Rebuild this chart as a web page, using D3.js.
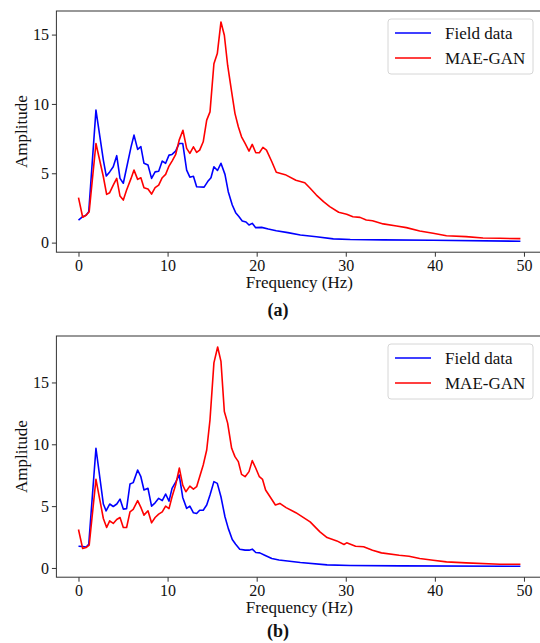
<!DOCTYPE html>
<html>
<head>
<meta charset="utf-8">
<script src="https://cdn.jsdelivr.net/npm/d3@7"></script>
<style>
    body { margin: 0; background: #fff; }
    .axis path, .axis line { stroke: #333; }
</style>
</head>
<body>
<div id="chart"></div>
<script>

// spectra: [frequency (Hz), amplitude]
var fieldA = [[0,1.63],[0.47,1.87],[0.85,1.97],[1.15,2.23],[1.96,9.55],[2.79,5.95],[3.12,4.8],[3.5,5.1],[3.9,5.47],[4.29,6.27],[4.66,4.63],[5.03,4.28],[5.4,5.4],[5.9,6.9],[6.23,7.75],[6.64,6.72],[7.0,6.92],[7.35,5.72],[7.8,5.6],[8.2,4.63],[8.6,5.1],[9.0,5.15],[9.4,5.88],[9.78,5.72],[10.16,6.31],[10.5,6.36],[10.9,6.6],[11.3,7.15],[11.7,7.15],[12.14,5.23],[12.5,4.72],[12.9,4.78],[13.26,4.03],[14.1,4.0],[14.5,4.4],[14.87,4.68],[15.2,5.47],[15.6,5.2],[15.99,5.72],[16.44,4.92],[16.81,3.67],[17.26,2.71],[17.64,2.16],[18.0,1.88],[18.38,1.56],[18.8,1.49],[19.14,1.27],[19.5,1.39],[19.89,1.08],[20.56,1.1],[21.3,0.98],[22.2,0.86],[23.5,0.72],[24.9,0.55],[26.7,0.42],[28.6,0.27],[30.5,0.22],[34.2,0.2],[39.8,0.17],[49.6,0.1]];

var maeA = [[0,3.24],[0.47,1.83],[0.85,1.97],[1.2,2.23],[1.96,7.15],[2.79,4.75],[3.16,3.48],[3.5,3.6],[3.9,4.15],[4.29,4.63],[4.66,3.36],[5.03,3.07],[5.4,3.8],[5.9,4.63],[6.23,5.23],[6.64,4.56],[7.0,4.68],[7.35,3.96],[7.8,3.86],[8.2,3.5],[8.6,3.96],[9.0,4.15],[9.4,4.68],[9.78,4.92],[10.16,5.52],[10.5,5.88],[10.9,6.34],[11.3,7.39],[11.72,8.1],[12.14,6.8],[12.5,6.43],[12.9,6.91],[13.26,6.5],[13.6,6.67],[14.0,7.27],[14.39,8.83],[14.76,9.43],[15.2,12.9],[15.58,13.63],[15.99,15.91],[16.37,14.95],[16.74,12.79],[17.19,10.87],[17.56,9.32],[17.94,8.35],[18.3,7.63],[18.7,7.15],[19.14,6.6],[19.5,7.08],[19.9,6.48],[20.3,6.48],[20.7,6.87],[21.1,6.67],[21.7,5.83],[22.2,5.07],[23.2,4.9],[24.4,4.5],[25.4,4.32],[26.0,3.92],[26.7,3.43],[27.5,2.95],[28.2,2.6],[29.2,2.19],[30.1,2.05],[30.8,1.87],[31.6,1.82],[32.3,1.63],[33.0,1.58],[34.2,1.35],[35.7,1.2],[36.8,1.08],[38.3,0.84],[39.8,0.68],[41.3,0.5],[43.5,0.43],[45.4,0.33],[47.3,0.31],[49.6,0.29]];

var fieldB = [[0,1.76],[0.47,1.73],[0.85,1.7],[1.15,1.92],[1.96,9.68],[2.79,5.17],[3.1,4.62],[3.5,5.17],[3.9,4.97],[4.3,5.17],[4.66,5.57],[5.03,4.76],[5.4,4.8],[5.78,6.79],[6.14,6.9],[6.64,7.92],[7.0,7.38],[7.35,6.3],[7.8,6.44],[8.2,5.0],[8.6,5.27],[9.0,5.63],[9.4,5.45],[9.78,5.98],[10.16,5.4],[10.5,6.44],[10.94,6.98],[11.3,7.52],[11.7,5.7],[12.14,4.82],[12.5,5.0],[12.9,4.46],[13.26,4.4],[13.6,4.67],[14.0,4.67],[14.39,5.09],[14.76,5.9],[15.2,6.98],[15.58,6.84],[15.99,5.76],[16.44,4.14],[16.81,3.2],[17.26,2.3],[17.64,1.92],[18.1,1.52],[18.7,1.44],[19.14,1.44],[19.5,1.52],[19.9,1.25],[20.35,1.22],[20.9,1.03],[21.7,0.76],[22.5,0.65],[24.9,0.44],[27.9,0.25],[30.5,0.2],[36.2,0.17],[49.6,0.14]];

var maeB = [[0,3.11],[0.47,1.57],[0.85,1.65],[1.2,1.84],[1.96,7.17],[2.79,4.0],[3.16,3.27],[3.5,3.81],[3.9,3.6],[4.29,3.92],[4.66,4.08],[5.03,3.27],[5.4,3.27],[5.78,4.54],[6.14,4.73],[6.64,5.44],[7.0,4.9],[7.35,4.27],[7.8,4.62],[8.2,3.65],[8.6,4.08],[9.0,4.35],[9.4,4.54],[9.78,5.0],[10.16,4.8],[10.5,5.76],[10.9,6.7],[11.32,8.08],[11.7,6.7],[12.05,6.16],[12.5,6.62],[12.9,6.38],[13.26,6.57],[13.6,7.38],[14.0,8.33],[14.39,9.54],[14.76,11.98],[15.2,16.58],[15.62,17.87],[15.99,16.71],[16.37,12.65],[16.74,11.71],[17.19,9.68],[17.56,9.0],[17.94,8.6],[18.3,7.57],[18.7,7.38],[19.14,7.79],[19.5,8.68],[19.9,8.06],[20.3,7.38],[20.66,7.16],[21.0,6.3],[21.5,5.76],[22.1,5.09],[22.6,5.22],[23.3,4.88],[24.4,4.47],[26.0,3.73],[27.1,2.92],[27.9,2.46],[29.0,2.19],[29.8,1.9],[30.1,2.03],[31.1,1.76],[32.0,1.71],[33.0,1.44],[34.0,1.22],[36.0,1.03],[37.1,0.95],[38.3,0.76],[39.8,0.62],[41.3,0.49],[43.5,0.41],[47.3,0.3],[49.6,0.3]];

var seriesNames = ['Field data', 'MAE-GAN'];
var seriesColors = ['#0000ff', '#ff0000'];
var xTicks = [0, 10, 20, 30, 40, 50];
var yTicks = [0, 5, 10, 15];

var serif = '"Liberation Serif"';

var svg = d3.select('#chart')
    .append('svg')
    .attr('width', 540)
    .attr('height', 643);

// every text gets the serif face directly
function setText(sel, size) {
    return sel.style('font-family', serif)
        .style('font-size', size + 'px')
        .attr('fill', '#111');
}

SpectrumPlot = function(_svg, _series, _top, _label, _labelGap) {
    this.svg = _svg;
    this.series = _series;
    this.top = _top;
    this.label = _label;
    this.labelGap = _labelGap;

    this.initVis();
}

SpectrumPlot.prototype.initVis = function() {
    var vis = this;

    vis.left = 56.4;
    vis.width = 486.1;
    vis.height = 241.2;

    vis.g = vis.svg.append('g')
        .attr('transform', 'translate(' + vis.left + ',' + vis.top + ')');

    // matplotlib style 5% padding around the data
    var all = d3.merge(vis.series);
    var xExt = d3.extent(all, function(d) { return d[0]; });
    var yExt = d3.extent(all, function(d) { return d[1]; });
    var xPad = (xExt[1] - xExt[0]) * 0.05,
        yPad = (yExt[1] - yExt[0]) * 0.05;

    vis.xScale = d3.scaleLinear()
        .domain([xExt[0] - xPad, xExt[1] + xPad])
        .range([0, vis.width]);

    vis.yScale = d3.scaleLinear()
        .domain([yExt[0] - yPad, yExt[1] + yPad])
        .range([vis.height, 0]);

    vis.g.append('g')
        .attr('class', 'x-axis axis')
        .attr('transform', 'translate(0,' + vis.height + ')')
        .call(d3.axisBottom(vis.xScale).tickValues(xTicks).tickSize(4.5).tickPadding(3).tickSizeOuter(0))
        .call(function(g) { setText(g.selectAll('text'), 16); });

    vis.g.append('g')
        .attr('class', 'y-axis axis')
        .call(d3.axisLeft(vis.yScale).tickValues(yTicks).tickSize(4.5).tickPadding(3).tickSizeOuter(0))
        .call(function(g) { setText(g.selectAll('text'), 16); });

    // frame
    vis.g.selectAll('.domain').remove();
    vis.g.append('rect')
        .attr('width', vis.width)
        .attr('height', vis.height)
        .attr('fill', 'none')
        .attr('stroke', '#333')
        .attr('stroke-width', 1);

    var line = d3.line()
        .x(function(d) { return vis.xScale(d[0]); })
        .y(function(d) { return vis.yScale(d[1]); });

    vis.g.selectAll('.spectrum')
        .data(vis.series)
        .enter()
        .append('path')
        .attr('class', 'spectrum')
        .attr('d', line)
        .attr('fill', 'none')
        .attr('stroke', function(d, i) { return seriesColors[i]; })
        .attr('stroke-width', 1.6)
        .attr('stroke-linejoin', 'round');

    setText(vis.g.append('text'), 17)
        .attr('transform', 'translate(' + (27 - vis.left) + ',' + (vis.height / 2) + ') rotate(-90)')
        .attr('text-anchor', 'middle')
        .text('Amplitude');

    setText(vis.g.append('text'), 17)
        .attr('x', vis.width / 2)
        .attr('y', vis.height + 36)
        .attr('text-anchor', 'middle')
        .text('Frequency (Hz)');

    setText(vis.g.append('text'), 18)
        .attr('x', 278 - vis.left)
        .attr('y', vis.height + vis.labelGap)
        .attr('text-anchor', 'middle')
        .style('font-weight', 'bold')
        .text(vis.label);

    // legend
    var legend = vis.g.append('g')
        .attr('transform', 'translate(' + (388 - vis.left) + ',8)');

    legend.append('rect')
        .attr('width', 145)
        .attr('height', 55)
        .attr('rx', 3)
        .attr('fill', '#fff')
        .attr('fill-opacity', 0.8)
        .attr('stroke', '#d6d6d6');

    var items = legend.selectAll('.legend-item')
        .data(seriesNames)
        .enter()
        .append('g')
        .attr('class', 'legend-item')
        .attr('transform', function(d, i) { return 'translate(0,' + (14 + i * 25) + ')'; });

    items.append('line')
        .attr('x1', 7)
        .attr('x2', 43)
        .attr('stroke', function(d, i) { return seriesColors[i]; })
        .attr('stroke-width', 1.6);

    setText(items.append('text'), 17)
        .attr('x', 57)
        .attr('y', 6)
        .text(function(d) { return d; });
}

var plotA = new SpectrumPlot(svg, [fieldA, maeA], 11, '(a)', 64);
var plotB = new SpectrumPlot(svg, [fieldB, maeB], 336, '(b)', 60);

</script>
</body>
</html>
